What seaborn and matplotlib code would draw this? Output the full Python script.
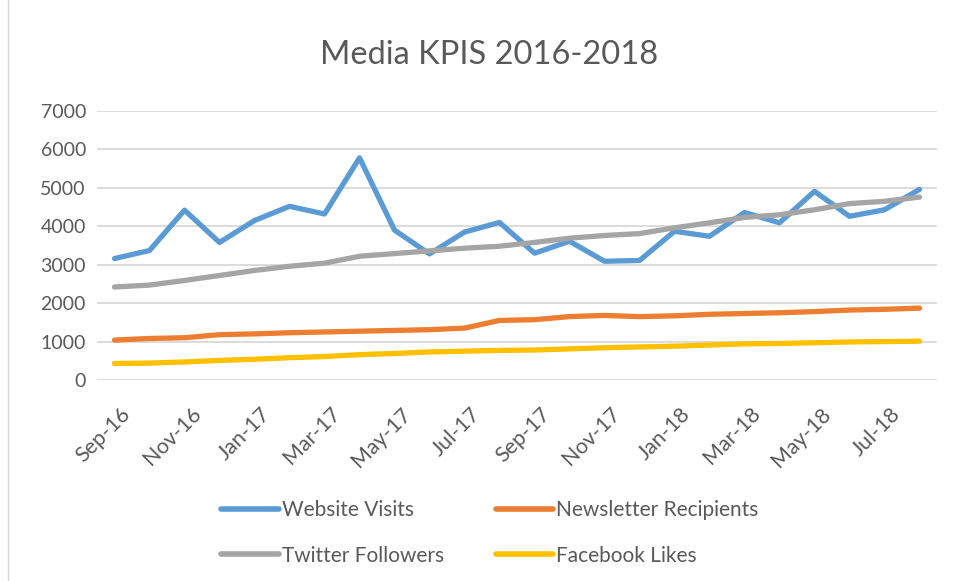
import matplotlib
matplotlib.use("Agg")
import matplotlib.pyplot as plt
from matplotlib.lines import Line2D
from matplotlib.transforms import ScaledTranslation
import seaborn as sns
import pandas as pd

months = ["Sep-16", "Oct-16", "Nov-16", "Dec-16", "Jan-17", "Feb-17", "Mar-17", "Apr-17",
          "May-17", "Jun-17", "Jul-17", "Aug-17", "Sep-17", "Oct-17", "Nov-17", "Dec-17",
          "Jan-18", "Feb-18", "Mar-18", "Apr-18", "May-18", "Jun-18", "Jul-18", "Aug-18"]

website_visits = [3160, 3370, 4420, 3580, 4150, 4520, 4320, 5780, 3900, 3280, 3850, 4100,
                  3300, 3610, 3090, 3110, 3870, 3740, 4360, 4090, 4910, 4260, 4430, 4960]
newsletter_recipients = [1040, 1080, 1100, 1180, 1200, 1230, 1250, 1270, 1290, 1310, 1350, 1550,
                         1570, 1650, 1680, 1650, 1670, 1710, 1730, 1750, 1780, 1820, 1840, 1870]
twitter_followers = [2420, 2470, 2590, 2720, 2850, 2960, 3040, 3220, 3290, 3360, 3430, 3480,
                     3580, 3690, 3760, 3810, 3960, 4090, 4230, 4300, 4430, 4590, 4650, 4760]
facebook_likes = [430, 440, 470, 510, 540, 580, 610, 660, 690, 730, 750, 770,
                  780, 810, 840, 860, 880, 910, 940, 950, 970, 990, 1000, 1010]

series_names = ["Website Visits", "Newsletter Recipients", "Twitter Followers", "Facebook Likes"]
colors = ["#5B9BD5", "#ED7D31", "#A5A5A5", "#FFC000"]
title = "Media KPIS 2016-2018"
yticks = [0, 1000, 2000, 3000, 4000, 5000, 6000, 7000]

sns.set_theme(style="white")
plt.rcParams["font.family"] = ["Lato", "DejaVu Sans"]
text_color = "#595959"

rows = []
for name, vals in zip(series_names, [website_visits, newsletter_recipients, twitter_followers, facebook_likes]):
    for i, (m, v) in enumerate(zip(months, vals)):
        rows.append({"idx": i, "Month": m, "Series": name, "Value": v})
df = pd.DataFrame(rows)

fig = plt.figure(figsize=(9.54, 5.81), dpi=100)
ax = fig.add_axes([97 / 954, 201 / 581, 840 / 954, 269 / 581])

sns.lineplot(data=df, x="idx", y="Value", hue="Series", hue_order=series_names,
             palette=colors, linewidth=3.8, ax=ax, legend=False, solid_capstyle="round")

ax.set_xlim(-0.5, len(months) - 0.5)
ax.set_ylim(0, 7000)
ax.set_yticks(yticks)
ax.set_yticklabels([str(t) for t in yticks], fontsize=14, color=text_color)
ax.set_xticks(list(range(0, len(months), 2)))
ax.set_xticklabels(months[::2], rotation=45, ha="right", rotation_mode="anchor",
                   fontsize=15.5, color=text_color)
ax.tick_params(axis="y", length=0, pad=8)
ax.tick_params(axis="x", length=0, pad=17)
shift = ScaledTranslation(6 / 100, 0, fig.dpi_scale_trans)
for lbl in ax.get_xticklabels():
    lbl.set_transform(lbl.get_transform() + shift)
ax.yaxis.grid(True, color="#d9d9d9", linewidth=1.3)
ax.set_axisbelow(True)
for s in ax.spines.values():
    s.set_visible(False)
ax.set_xlabel("")
ax.set_ylabel("")

fig.text(489 / 954, 1 - 55 / 581, title, ha="center", va="center", fontsize=23.5, color=text_color)

handles = [Line2D([0], [0], color=c, linewidth=4, solid_capstyle="round") for c in colors]
order = [0, 2, 1, 3]  # row-wise: Website, Newsletter / Twitter, Facebook
fig.legend([handles[i] for i in order], [series_names[i] for i in order],
           loc="center", bbox_to_anchor=(490 / 954, 1 - 533 / 581),
           ncol=2, frameon=False, fontsize=15, labelcolor=text_color,
           handlelength=2.75, handletextpad=0.15, columnspacing=2.5, labelspacing=1.2)

fig.add_artist(Line2D([8 / 954, 8 / 954], [0, 1], transform=fig.transFigure, color="#d9d9d9", linewidth=1))

fig.savefig("out.png", dpi=100)
